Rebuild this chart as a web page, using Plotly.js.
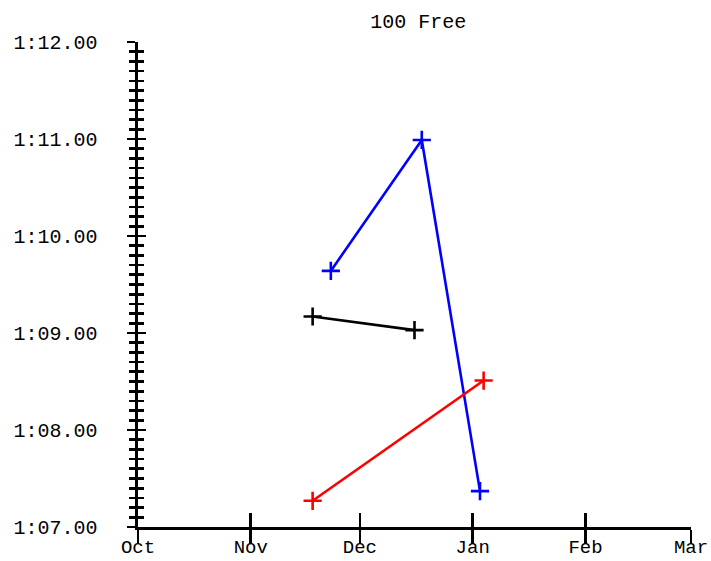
<!DOCTYPE html>
<html>
<head>
<meta charset="utf-8">
<script src="https://cdn.plot.ly/plotly-3.0.1.min.js"></script>
<style>html,body{margin:0;padding:0;background:#fff;}</style>
</head>
<body>
<div id="chart" style="width:711px;height:561px;"></div>
<script>
// Data (times in seconds)
const blueDates = ["2011-11-23", "2011-12-18", "2012-01-03"];
const blueTimes = [69.64, 70.99, 67.37];
const blackDates = ["2011-11-18", "2011-12-16"];
const blackTimes = [69.17, 69.03];
const redDates = ["2011-11-18", "2012-01-04"];
const redTimes = [67.27, 68.51];
const yTickVals = [67, 68, 69, 70, 71, 72];
const yTickText = ["1:07.00", "1:08.00", "1:09.00", "1:10.00", "1:11.00", "1:12.00"];
const xRange = ["2011-10-01", "2012-03-01"];
const yRange = [67, 72];

const FONT = "Liberation Mono, Courier New, monospace";
const LW = 2.6;

function series(x, y, color, xa, ya) {
  return {
    x: x, y: y, type: "scatter", mode: "lines+markers",
    xaxis: xa, yaxis: ya,
    line: {color: color, width: LW},
    marker: {symbol: "cross-thin", size: 13, line: {color: color, width: LW}, color: color},
    showlegend: false, hoverinfo: "skip"
  };
}

const data = [
  series(blueDates, blueTimes, "#0000ff", "x", "y"),
  series(blackDates, blackTimes, "#000000", "x2", "y2"),
  series(redDates, redTimes, "#ff0000", "x", "y")
];

const xCommon = {
  type: "date", range: xRange, dtick: "M1", tick0: "2011-10-01",
  showgrid: false, zeroline: false,
  showline: true, linecolor: "#000", linewidth: LW,
  tickcolor: "#000", tickwidth: LW, ticklen: 14
};
const yCommon = {
  range: yRange, tickmode: "array", tickvals: yTickVals,
  showgrid: false, zeroline: false,
  showline: true, linecolor: "#000", linewidth: LW,
  tickcolor: "#000", tickwidth: LW, ticklen: 8
};

const layout = {
  width: 711, height: 561,
  margin: {l: 138, r: 20, t: 42, b: 34},
  paper_bgcolor: "#fff", plot_bgcolor: "#fff",
  font: {family: FONT, size: 20, color: "#000"},
  title: {text: "100 Free", font: {family: FONT, size: 20, color: "#000"},
          x: 0.507, xref: "paper", y: 1 - 21/561, yref: "container", yanchor: "middle", xanchor: "center"},
  xaxis: Object.assign({}, xCommon, {
    ticks: "outside", tickformat: "%b", ticklabelstandoff: -13,
    tickfont: {family: FONT, size: 19, color: "#000"}
  }),
  xaxis2: Object.assign({}, xCommon, {
    overlaying: "x", anchor: "y2", side: "bottom", ticks: "inside", showticklabels: false
  }),
  yaxis: Object.assign({}, yCommon, {
    ticks: "outside", ticktext: yTickText, ticklabelstandoff: 26,
    tickfont: {family: FONT, size: 20, color: "#000"},
    minor: {ticks: "outside", tickmode: "linear", tick0: 67, dtick: 0.1, ticklen: 6, tickwidth: LW, tickcolor: "#000", showgrid: false}
  }),
  yaxis2: Object.assign({}, yCommon, {
    overlaying: "y", anchor: "x2", side: "left", ticks: "inside", showticklabels: false,
    minor: {ticks: "inside", tickmode: "linear", tick0: 67, dtick: 0.1, ticklen: 6, tickwidth: LW, tickcolor: "#000", showgrid: false}
  })
};

Plotly.newPlot("chart", data, layout, {staticPlot: true, displayModeBar: false});
</script>
</body>
</html>
